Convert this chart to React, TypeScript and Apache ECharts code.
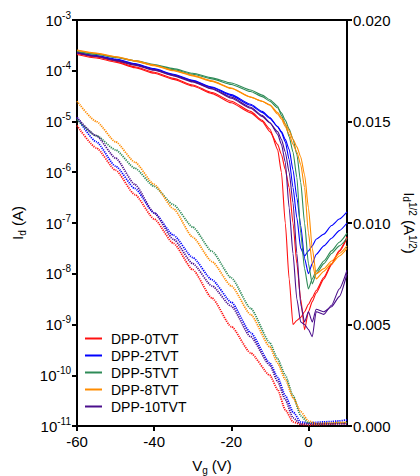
import React, { useEffect, useRef } from "react";
import * as echarts from "echarts";

// Gate voltage grids (V)
const vgLog = [-60, -55, -50, -45, -40, -35, -30, -25, -20, -15, -12, -10, -8, -7, -6, -5, -4, -3, -2, -1, 0, 1, 2, 4, 6, 8, 10];
const vgSqrt = [-60, -55, -50, -45, -40, -35, -30, -25, -20, -15, -10, -8, -6, -4, -2, 0, 2, 4, 6, 8, 10];

const deviceNames = ["DPP-0TVT", "DPP-2TVT", "DPP-5TVT", "DPP-8TVT", "DPP-10TVT"];

// Drain current Id (A), two sweeps per device (left log axis)
const id0a = [2.19e-4, 1.86e-4, 1.55e-4, 1.2e-4, 9.33e-5, 7.08e-5, 5.25e-5, 3.72e-5, 2.51e-5, 1.58e-5, 1.05e-5, 7.08e-6, 2.82e-6, 1.0e-6, 1.0e-7, 7.94e-9, 1.0e-9, 1.2e-9, 1.38e-9, 1.78e-9, 2.51e-9, 3.39e-9, 4.68e-9, 8.51e-9, 1.58e-8, 2.88e-8, 5.37e-8];
const id0b = [2.09e-4, 1.78e-4, 1.48e-4, 1.15e-4, 8.91e-5, 6.76e-5, 5.01e-5, 3.55e-5, 2.34e-5, 1.48e-5, 1.0e-5, 6.31e-6, 3.55e-6, 2.24e-6, 1.12e-6, 5.01e-7, 1.0e-7, 1.58e-8, 3.16e-9, 7.94e-10, 1.78e-9, 2.82e-9, 4.17e-9, 7.94e-9, 1.51e-8, 2.75e-8, 5.01e-8];
const id2a = [2.29e-4, 2.0e-4, 1.7e-4, 1.38e-4, 1.1e-4, 8.51e-5, 6.46e-5, 4.79e-5, 3.39e-5, 2.19e-5, 1.58e-5, 1.2e-5, 7.94e-6, 6.03e-6, 3.98e-6, 1.78e-6, 5.01e-7, 1.26e-7, 3.16e-8, 2.24e-8, 2.82e-8, 3.55e-8, 4.79e-8, 6.03e-8, 8.91e-8, 1.2e-7, 1.66e-7];
const id2b = [2.24e-4, 1.95e-4, 1.66e-4, 1.35e-4, 1.07e-4, 8.32e-5, 6.31e-5, 4.68e-5, 3.24e-5, 2.09e-5, 1.51e-5, 1.15e-5, 7.94e-6, 6.31e-6, 4.47e-6, 2.82e-6, 1.12e-6, 3.16e-7, 8.91e-8, 2.0e-8, 1.0e-8, 1.58e-8, 2.4e-8, 3.55e-8, 5.01e-8, 7.08e-8, 1.0e-7];
const id5a = [2.4e-4, 2.14e-4, 1.86e-4, 1.58e-4, 1.32e-4, 1.1e-4, 8.91e-5, 7.24e-5, 5.75e-5, 4.17e-5, 3.31e-5, 2.69e-5, 2.0e-5, 1.32e-5, 8.91e-6, 5.01e-6, 2.51e-6, 7.94e-7, 6.31e-8, 1.26e-8, 5.01e-9, 7.94e-9, 1.12e-8, 1.78e-8, 2.82e-8, 4.17e-8, 6.31e-8];
const id5b = [2.34e-4, 2.09e-4, 1.82e-4, 1.55e-4, 1.29e-4, 1.05e-4, 8.51e-5, 6.92e-5, 5.37e-5, 3.89e-5, 3.09e-5, 2.51e-5, 1.86e-5, 1.48e-5, 1.07e-5, 7.08e-6, 4.47e-6, 2.24e-6, 6.31e-7, 1.0e-7, 1.58e-8, 6.31e-9, 1.0e-8, 1.58e-8, 2.51e-8, 3.55e-8, 5.01e-8];
const id8a = [2.57e-4, 2.24e-4, 1.91e-4, 1.58e-4, 1.29e-4, 1.02e-4, 8.13e-5, 6.31e-5, 4.57e-5, 3.02e-5, 2.51e-5, 2.09e-5, 1.41e-5, 1.12e-5, 7.94e-6, 5.62e-6, 3.55e-6, 2.51e-6, 1.41e-6, 5.01e-7, 6.31e-8, 1.58e-8, 7.94e-9, 1.12e-8, 1.58e-8, 2.24e-8, 3.16e-8];
const id8b = [2.51e-4, 2.19e-4, 1.86e-4, 1.55e-4, 1.26e-4, 1.0e-4, 7.94e-5, 6.17e-5, 4.47e-5, 3.02e-5, 2.51e-5, 2.14e-5, 1.51e-5, 1.2e-5, 8.91e-6, 6.61e-6, 4.47e-6, 3.16e-6, 2.0e-6, 8.91e-7, 2.0e-7, 3.16e-8, 1.0e-8, 1.26e-8, 1.78e-8, 2.51e-8, 3.55e-8];
const id10a = [2.29e-4, 1.95e-4, 1.62e-4, 1.32e-4, 1.05e-4, 8.13e-5, 6.17e-5, 4.47e-5, 3.02e-5, 1.91e-5, 1.32e-5, 9.55e-6, 5.62e-6, 3.55e-6, 1.58e-6, 2.0e-7, 2.51e-8, 3.16e-9, 1.12e-9, 1.0e-9, 7.94e-10, 5.75e-10, 1.78e-9, 1.58e-9, 2.4e-9, 5.01e-9, 1.17e-8];
const id10b = [2.24e-4, 1.91e-4, 1.58e-4, 1.29e-4, 1.02e-4, 7.94e-5, 6.03e-5, 4.37e-5, 2.88e-5, 1.82e-5, 1.26e-5, 9.33e-6, 6.31e-6, 4.47e-6, 2.51e-6, 1.0e-6, 2.51e-7, 2.51e-8, 2.51e-9, 1.12e-9, 1.78e-9, 1.12e-9, 2.0e-9, 1.78e-9, 2.24e-9, 3.55e-9, 1.0e-8];

// Square root of drain current (A^1/2), right axis
const sq0 = [0.0148, 0.0137, 0.0126, 0.0114, 0.0102, 0.009, 0.0077, 0.0063, 0.0049, 0.0036, 0.0025, 0.0018, 0.0008, 0.0002, 0.00008, 0.00006, 0.00007, 0.00008, 0.0001, 0.00012, 0.00013];
const sq2 = [0.0152, 0.014, 0.0128, 0.0117, 0.0105, 0.0094, 0.0083, 0.0072, 0.0061, 0.0046, 0.0031, 0.0024, 0.0015, 0.0007, 0.0002, 0.00015, 0.00018, 0.0002, 0.00022, 0.00025, 0.0003];
const sq5 = [0.0151, 0.0143, 0.0136, 0.0127, 0.0118, 0.0109, 0.0098, 0.0086, 0.0073, 0.0058, 0.0041, 0.0033, 0.0025, 0.0015, 0.0005, 0.00015, 0.0001, 0.00012, 0.00013, 0.00015, 0.00016];
const sq8 = [0.016, 0.015, 0.014, 0.013, 0.0119, 0.0107, 0.0093, 0.0081, 0.0069, 0.0055, 0.0039, 0.0031, 0.0023, 0.0014, 0.0007, 0.00025, 0.00012, 0.00013, 0.00015, 0.00017, 0.00018];
const sq10 = [0.0152, 0.0143, 0.0132, 0.0119, 0.0105, 0.0092, 0.008, 0.0069, 0.0059, 0.0044, 0.003, 0.0022, 0.0013, 0.0004, 0.0001, 0.0001, 0.0001, 0.0001, 0.0001, 0.0001, 0.0001];

const xTicks = [-60, -40, -20, 0];

const logSets = [[id0a, id0b], [id2a, id2b], [id5a, id5b], [id8a, id8b], [id10a, id10b]];
const sqrtSets = [sq0, sq2, sq5, sq8, sq10];
const palette = ["#ff1010", "#0000ff", "#2e8b57", "#ff8c00", "#4b0f8c"];

const FONT = "Liberation Sans, Arial, Helvetica, sans-serif";

export default function App() {
  const ref = useRef<HTMLDivElement>(null);
  useEffect(() => {
    if (!ref.current) return;
    const chart = echarts.init(ref.current, null, { renderer: "svg" });
    const series: any[] = [];
    deviceNames.forEach((name, i) => {
      logSets[i].forEach((arr) => {
        series.push({
          name,
          type: "line",
          xAxisIndex: 0,
          yAxisIndex: 0,
          data: vgLog.map((v, k) => [v, arr[k]]),
          showSymbol: false,
          symbol: "none",
          smooth: 0.2,
          smoothMonotone: "x",
          color: palette[i],
          lineStyle: { width: 1.1, color: palette[i] },
        });
      });
      series.push({
        name,
        type: "line",
        xAxisIndex: 0,
        yAxisIndex: 1,
        data: vgSqrt.map((v, k) => [v, sqrtSets[i][k]]),
        showSymbol: false,
        symbol: "none",
        smooth: 0.2,
        smoothMonotone: "x",
        color: palette[i],
        lineStyle: { width: 1.8, color: palette[i], type: [1.2, 1] },
      });
    });

    const sub = { fontSize: 10, verticalAlign: "bottom", lineHeight: 14, fontFamily: FONT, color: "#000" };
    const sup = { fontSize: 10, verticalAlign: "top", lineHeight: 10, fontFamily: FONT, color: "#000" };
    const base = { fontSize: 15, lineHeight: 20, fontFamily: FONT, color: "#000" };
    const baseR = { fontSize: 15, lineHeight: 16, fontFamily: FONT, color: "#000" };
    const subR = { fontSize: 10, verticalAlign: "bottom", lineHeight: 11, fontFamily: FONT, color: "#000" };
    const supR = { fontSize: 10, verticalAlign: "top", lineHeight: 10, fontFamily: FONT, color: "#000" };

    chart.setOption({
      animation: false,
      backgroundColor: "#fff",
      textStyle: { fontFamily: FONT },
      grid: {
        left: 77,
        right: 73,
        top: 20,
        bottom: 50,
        outerBoundsMode: "none",
        containLabel: false,
        show: true,
        borderColor: "#000",
        borderWidth: 2,
        backgroundColor: "transparent",
      },
      legend: {
        orient: "vertical",
        left: 85,
        top: 330,
        icon: "rect",
        itemWidth: 17,
        itemHeight: 2,
        itemGap: 0,
        padding: 0,
        data: deviceNames,
        textStyle: { fontSize: 14, lineHeight: 17, color: "#000", fontFamily: FONT, padding: [0, 0, 0, 4] },
      },
      xAxis: {
        type: "value",
        min: -60,
        max: 10,
        interval: 20,
        name: "{a|V}{s|g}{a| (V)}",
        nameLocation: "middle",
        nameGap: 29,
        nameTextStyle: { rich: { a: base, s: sub } },
        axisLine: { onZero: false, lineStyle: { color: "#000", width: 2 } },
        axisTick: { length: 5, lineStyle: { color: "#000", width: 2 }, customValues: xTicks },
        axisLabel: { fontSize: 15, color: "#000", margin: 8, fontFamily: FONT, customValues: xTicks },
        splitLine: { show: false },
      },
      yAxis: [
        {
          type: "log",
          logBase: 10,
          min: 1e-11,
          max: 1e-3,
          splitNumber: 8,
          position: "left",
          name: "{a|I}{s|d}{a| (A)}",
          nameLocation: "middle",
          nameGap: 50,
          nameTextStyle: { rich: { a: base, s: sub } },
          axisLine: { show: true, onZero: false, lineStyle: { color: "#000", width: 2 } },
          axisTick: { show: true, length: 5, lineStyle: { color: "#000", width: 2 } },
          axisLabel: {
            margin: 6,
            formatter: (v: number) => `{b|10}{s|${Math.round(Math.log10(v))}}`,
            rich: { b: base, s: sup },
          },
          splitLine: { show: false },
          minorTick: { show: false },
        },
        {
          type: "value",
          min: 0,
          max: 0.02,
          interval: 0.005,
          position: "right",
          name: "{a|I}{s|d}{p|1/2}{a| (A}{p|1/2}{a|)}",
          nameLocation: "middle",
          nameGap: 44,
          nameRotate: -90,
          nameTextStyle: { rich: { a: baseR, s: subR, p: supR } },
          axisLine: { show: true, onZero: false, lineStyle: { color: "#000", width: 2 } },
          axisTick: { show: true, length: 5, lineStyle: { color: "#000", width: 2 } },
          axisLabel: {
            margin: 6,
            fontSize: 15,
            color: "#000",
            fontFamily: FONT,
            formatter: (v: number) => v.toFixed(3),
          },
          splitLine: { show: false },
        },
      ],
      series,
    });
    return () => chart.dispose();
  }, []);
  return <div ref={ref} style={{ position: "fixed", left: 0, top: 0, width: 420, height: 476 }} />;
}
